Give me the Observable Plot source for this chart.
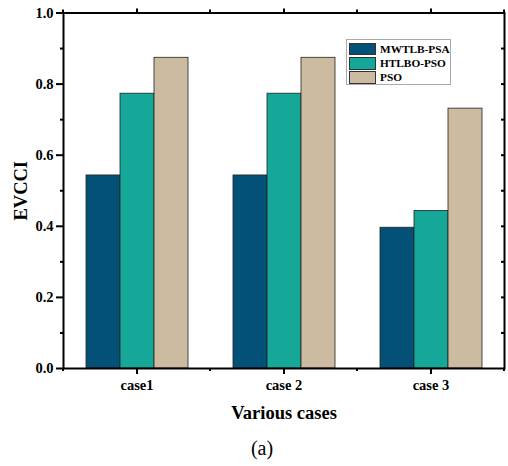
<!DOCTYPE html>
<html>
<head>
<meta charset="utf-8">
<script src="https://cdn.jsdelivr.net/npm/d3@7"></script>
<script src="https://cdn.jsdelivr.net/npm/@observablehq/plot@0.6"></script>
<style>
  html, body { margin: 0; padding: 0; background: #fff; }
  #wrap { position: relative; width: 508px; height: 466px; font-family: 'Liberation Serif', 'Times New Roman', serif; }
  #legend { position: absolute; left: 346px; top: 39px; width: 105px; height: 46px; border: 1px solid #aaa; background: #fff; box-sizing: border-box; padding: 2px 0 0 2px; }
  .row { display: flex; align-items: center; height: 14.3px; white-space: nowrap; }
  .sw { width: 25px; height: 10.5px; border: 1px solid #333; margin-right: 4px; box-sizing: content-box; flex: none; }
  .lab { font-weight: bold; font-size: 11.3px; line-height: 11px; white-space: nowrap; }
  #caption { position: absolute; left: 0; top: 436px; width: 508px; padding-left: 16px; box-sizing: border-box; text-align: center; font-size: 20px; line-height: 24px; }
</style>
</head>
<body>
<div id="wrap"></div>
<script>
const cases = ["case1", "case 2", "case 3"];
const series = ["MWTLB-PSA", "HTLBO-PSO", "PSO"];
const mwtlbPsa = [0.543, 0.543, 0.396];
const htlboPso = [0.773, 0.773, 0.443];
const pso = [0.874, 0.874, 0.731];
const colors = ["#045177", "#15a899", "#ccbba0"];
const yTicks = [0, 0.2, 0.4, 0.6, 0.8, 1.0];
const yMinor = [0.1, 0.3, 0.5, 0.7, 0.9];

const values = [mwtlbPsa, htlboPso, pso];
const data = [];
cases.forEach((c, i) => series.forEach((s, j) => data.push({case: c, series: s, value: values[j][i]})));

const empty = () => "";
const chart = Plot.plot({
  width: 508,
  height: 430,
  marginLeft: 63,
  marginRight: 4,
  marginTop: 12.5,
  marginBottom: 62,
  style: {fontFamily: "'Liberation Serif', 'Times New Roman', serif", fontSize: "14.5px", fontWeight: "bold", color: "#000", background: "white"},
  fx: {domain: cases, paddingInner: 0, paddingOuter: 0},
  x: {domain: series, paddingInner: 0, paddingOuter: 0.66, axis: null},
  y: {domain: [0, 1]},
  color: {domain: series, range: colors},
  marks: [
    Plot.barY(data, {fx: "case", x: "series", y: "value", fill: "series", stroke: "#222", strokeWidth: 0.8}),
    Plot.frame({facet: "super", stroke: "#000", strokeWidth: 2}),
    Plot.axisY({anchor: "left", ticks: yTicks, tickSize: 7, tickPadding: 3, tickFormat: ".1f", label: "EVCCI", labelAnchor: "center", labelArrow: "none", labelOffset: 50}),
    Plot.axisY({anchor: "left", ticks: yMinor, tickSize: 3, tickFormat: empty, label: null}),
    Plot.axisY({anchor: "right", ticks: [...yMinor, 0.2, 0.4, 0.6, 0.8], tickSize: -4, tickPadding: 0, tickFormat: empty, label: null}),
    Plot.axisFx({anchor: "bottom", tickSize: 6, tickPadding: 5, label: "Various cases", labelAnchor: "center", labelOffset: 50}),
    Plot.axisFx({anchor: "top", tickSize: 5, tickFormat: empty, label: null})
  ]
});

document.getElementById("wrap").appendChild(chart);

// minor ticks at the band boundaries of the categorical axis
const fx = chart.scale("fx");
const y = chart.scale("y");
const edges = cases.map(c => fx.apply(c)).concat([fx.apply(cases[cases.length - 1]) + fx.bandwidth]);
const svg = d3.select(chart.tagName.toLowerCase() === "svg" ? chart : chart.querySelector("svg"));
const g = svg.append("g").attr("stroke", "#000").attr("stroke-width", 2);
edges.forEach(e => {
  g.append("line").attr("x1", e).attr("x2", e).attr("y1", y.apply(0)).attr("y2", y.apply(0) + 3);
  g.append("line").attr("x1", e).attr("x2", e).attr("y1", y.apply(1)).attr("y2", y.apply(1) - 3);
});
svg.selectAll('[aria-label$="tick label"]').style("font-size", "14.5px").style("font-weight", "bold");
svg.selectAll('[aria-label$="tick label"] text').style("font-size", "14.5px").style("font-weight", "bold");
svg.selectAll('[aria-label$="axis label"] text').style("font-size", "18.5px");
svg.selectAll('[aria-label$="axis tick"]').style("stroke-width", "2px").style("stroke", "#000");
svg.selectAll('[aria-label$="axis tick"] path').style("stroke-width", "2px").style("stroke", "#000");

// legend
const legend = document.createElement("div");
legend.id = "legend";
series.forEach((s, i) => {
  const row = document.createElement("div");
  row.className = "row";
  const sw = document.createElement("div");
  sw.className = "sw";
  sw.style.background = colors[i];
  const lab = document.createElement("span");
  lab.className = "lab";
  lab.textContent = s;
  row.appendChild(sw); row.appendChild(lab);
  legend.appendChild(row);
});
document.getElementById("wrap").appendChild(legend);

const cap = document.createElement("div");
cap.id = "caption";
cap.textContent = "(a)";
document.getElementById("wrap").appendChild(cap);
</script>
</body>
</html>
